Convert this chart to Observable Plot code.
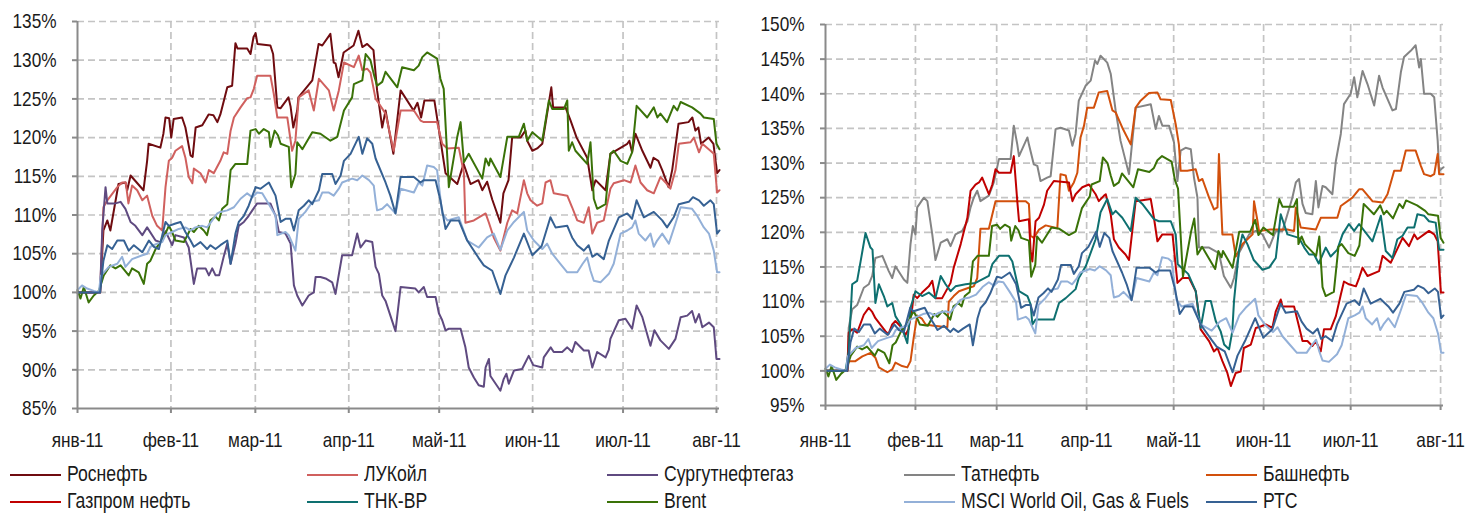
<!DOCTYPE html>
<html><head><meta charset="utf-8">
<script src="https://cdn.jsdelivr.net/npm/d3@7"></script>
<script src="https://cdn.jsdelivr.net/npm/@observablehq/plot@0.6"></script>
<style>
body{margin:0;background:#fff;font-family:"Liberation Sans",Arial,sans-serif;}
#wrap{position:relative;width:1465px;height:513px;overflow:hidden}
#left{position:absolute;left:0;top:0}
#right{position:absolute;left:735px;top:0}
#wrap svg{overflow:visible}
#legend{position:absolute;left:0;top:461px;width:1465px;height:52px}
.item{position:absolute;display:flex;align-items:center;font-size:21.5px;line-height:1;color:#1a1a1a;white-space:nowrap;height:26px}
.swatch{width:51px;height:2px;margin-right:6px;flex:none}
.txt{display:inline-block;line-height:1;transform:scaleX(0.82);transform-origin:left center}
</style></head><body>
<div id="wrap"><div id="left"></div><div id="right"></div><div id="legend"></div></div>
<script>
// ---- data: [day since 1 Jan 2011, % of start] ----
const rosneft = [[0,100],[7.5,100],[8.6,108],[9.9,109.3],[10.9,108],[13.6,114],[15.9,114.2],[16.5,113.2],[17.6,115.1],[21.9,113.2],[23.1,117],[23.6,119.2],[27.5,118.7],[28.5,120.5],[29.2,122.6],[30.4,122.5],[31.1,120],[31.9,122.4],[34.7,122.6],[35.8,121.3],[37.5,117.7],[38.2,117.5],[39.2,121.3],[41.4,121.6],[43.5,123],[45.1,122.9],[46.4,122],[47.4,123],[49.7,126.5],[51.3,126.7],[52.4,132.2],[53.1,131.5],[56.3,131.5],[57.4,130.8],[58.4,133],[59.1,133.5],[59.7,132.1],[64,131.9],[64.9,130.8],[66.3,123.9],[67.4,123.8],[70,125.2],[70.7,124],[71.6,121.3],[72.9,123.5],[73.3,125.2],[77.9,127.4],[80,132.1],[81.2,131.9],[83.9,133.4],[85,129.7],[85.6,129.6],[86.6,127.8],[88.3,131],[91.6,131.9],[93.2,133.8],[94.5,131.7],[96.1,132.1],[98.2,131.3],[99.4,126.1],[101.1,121.3],[102.2,123.5],[104.8,117.9],[107.2,126.1],[111.5,123.5],[112.8,124.5],[114,122.6],[115.1,124.8],[118.4,124.8],[119.8,121.3],[122.1,115.4],[126,114],[128.1,116.6],[130.4,114],[133,114.5],[134.3,113.2],[135.9,114.3],[137.6,112],[140.3,109],[141.3,112.8],[143,114.5],[144.2,120],[147,120],[148.6,120.9],[149.2,119.6],[150.9,118.3],[152.5,118.6],[154.2,119.2],[155.6,122.6],[157.2,126.5],[157.8,123.9],[161.9,123.9],[163.6,122.2],[165.6,120],[169.1,117.4],[170.8,113.2],[171.9,114.5],[175.2,113.2],[176.8,117.9],[182.4,119.2],[183.1,119.6],[184,118.1],[185.1,120.5],[187.4,118.3],[190.1,116.1],[191.1,117.4],[192.7,117],[194,115.8],[196.1,113.6],[197.3,115.8],[199.4,121.8],[202.7,122],[204,122.6],[205,120.9],[206,121.3],[206.9,119.2],[209.4,120],[211,119.2],[212.2,115.4],[213,115.8]];
const lukoil = [[0,100],[7.5,100],[8.6,111],[9.9,111.9],[13.2,113.6],[14.8,114.2],[16,114.2],[16.9,111.5],[18.1,113.8],[19.8,113.2],[21.5,111.9],[23.1,112.5],[24.8,109.9],[26.4,108.6],[28.1,108],[29.2,113.6],[30.3,117],[31.4,117.4],[32.5,118.3],[34.7,118.9],[35.8,117.4],[36.9,114.9],[38.1,114.1],[38.6,116],[40.8,115.4],[42.5,114.2],[43.6,115.8],[45.2,115.4],[47.4,117],[48.5,118.1],[49.7,117.9],[50.8,120.9],[51.9,122.6],[54.1,123.9],[56.3,125.1],[57.4,125.2],[58.5,126.3],[59.6,128],[64,128],[65.1,125.7],[66.3,122.6],[69.6,122.6],[71.2,118.3],[72.3,119.6],[73.4,125.2],[76.7,126.1],[78.4,123.5],[80.1,127.6],[83.4,126.1],[85,123.5],[86.7,126.1],[88.4,129.7],[91.7,129.1],[93.3,130.6],[94.5,128.7],[96.1,128.9],[97.2,128.4],[98.9,125],[100,124.4],[102.2,123.1],[104.9,118.3],[107.2,123.5],[111.6,123.5],[113.8,122.2],[114.9,122],[119.3,122],[121,119.2],[122.7,118.6],[126.5,118.7],[128.2,115.4],[128.7,109],[131.5,109.3],[135.4,110.2],[136.5,109],[138.1,107.1],[140.3,105.4],[142.6,109],[144.2,110.6],[145.9,110.2],[148.1,114.5],[149.2,112.8],[150.3,111.9],[152.5,111.2],[154.2,111.5],[155.3,114.2],[156.9,114.5],[158,112.8],[162.5,112.5],[164.1,111],[165.8,109.3],[168,109],[169.6,111],[170.8,107.6],[172.4,109],[174.6,109.3],[176.8,113.4],[177.9,114.1],[181.3,114.5],[183.5,114.2],[185.1,116.4],[186.8,114.2],[189,113.2],[191.2,112.8],[193.4,114.9],[195.1,114.2],[196.7,113.4],[198.4,115.8],[199.5,119.2],[203.4,119.4],[204.5,120],[206.2,118.1],[207.3,119.2],[210,118.3],[211.1,117.9],[212.2,112.9],[213,113.2]];
const surgut = [[0,100],[7.5,100],[8.2,108],[9.3,113.6],[9.9,111.5],[12.6,111.5],[14.3,111.7],[15.9,110.8],[17.6,109.1],[19.2,108.6],[21.5,107.4],[23.1,108.4],[25.9,106.7],[27.5,106.5],[29.2,107.9],[31.4,106.1],[32.5,107.4],[35.3,107.1],[36.9,105.8],[38.6,101.1],[39.7,103.1],[42.5,103.1],[43.6,102.2],[44.7,103.1],[45.8,102.2],[47,102.2],[48.5,104.6],[49.7,106.3],[50.8,103.7],[52.4,106.3],[53.5,108.6],[55.2,109.1],[56.8,109.9],[58,110.6],[59.6,111.5],[64,111.5],[65.7,109.9],[66.8,107.8],[69,107.6],[70.7,106.3],[71.8,100.9],[72.9,99.6],[74.6,98.3],[76.7,99.6],[78.4,100],[79,102],[80.6,102],[82.3,101.8],[84.5,101.3],[85.6,99.8],[87.8,104.8],[91.1,104.8],[92.8,107.6],[93.9,105.8],[95.6,106.7],[97.8,106.5],[98.9,103.3],[100,102.4],[101.1,99.6],[102.2,98.9],[105.5,95],[107.2,100.7],[112.1,100.5],[113.2,100],[114.9,100.7],[116,99.4],[118.8,99.4],[119.9,97.3],[121,96.4],[122.1,95.1],[123.2,95.3],[127.1,95.3],[128.7,92.9],[129.8,90.3],[131.5,89],[133.1,88],[134.8,87.8],[135.4,90.3],[136.5,91.4],[137,89.2],[140.3,87.3],[141.4,88.8],[142.3,89.5],[143.1,88.2],[144.8,89.9],[147.5,90.1],[149.7,91.8],[151.2,90.6],[154.2,90.3],[154.7,91.6],[157,92.9],[158,92.3],[160.8,92.3],[162.5,92.9],[164.1,92.3],[165.2,93.6],[168,92.5],[169.6,92.5],[170.8,90.3],[172.4,92.3],[175.2,91.6],[176.3,92.6],[176.8,94],[179.6,96.4],[181.8,96.6],[184,95.3],[185.5,98.3],[187.4,96.8],[190.1,93.1],[191.4,95.1],[193.4,93.8],[196.2,92.7],[198.4,94],[200.1,96.8],[202.3,97],[203.9,97.6],[205,96.1],[206.2,97.2],[207.3,95.5],[209.5,96.1],[211.1,95.5],[212,91.4],[213,91.4]];
const tatneft = [[0,100],[7.6,100],[8,106.2],[9.2,108.9],[10.9,109.5],[13.2,112],[14.9,112.5],[16.1,113.7],[17.2,116.3],[19.6,116.6],[21.8,114.4],[23,113.4],[24.1,115.1],[27,113.2],[28.2,112.7],[29.3,118.3],[30.1,120.9],[31,119.7],[31.6,123.6],[33.9,125],[35.1,124.5],[36.8,119.7],[37.9,116],[39.7,118.5],[42,119],[43.1,118],[44.8,119.7],[47.1,120.2],[48.9,121.6],[50,123.6],[51.1,125],[52.3,126],[53.4,124.5],[56.3,125.3],[58,127.2],[59.8,130.6],[63.8,130.6],[64.9,135.4],[66.1,132.7],[66.7,131],[69.6,133.7],[70.1,132.7],[71.8,129.8],[73,129.6],[74.1,127.4],[76.4,127.9],[77.6,128.1],[79.3,134.9],[81,135.1],[83.9,134.7],[85.1,132.5],[86.2,134.2],[87.3,139],[89.7,141.2],[91.4,141.9],[92.9,144.8],[93.7,144.3],[94.8,145.5],[97.1,144.5],[98.3,142.9],[100,137.6],[101.7,133.2],[104.6,128.4],[106.9,138],[112.1,138.5],[113.8,134.9],[114.9,136.8],[116.1,135.4],[118.4,135.4],[120.1,133],[121.3,127.4],[122.4,131.8],[124.1,132.2],[125.9,132],[127,127.9],[128.2,125],[128.7,117.8],[132.2,117.8],[135.6,117],[137.3,113.7],[139.7,112],[140.8,113.4],[142.5,117],[146,119.7],[148.3,120.2],[150.6,119.7],[152.9,117.8],[155.2,120.2],[157.5,120.2],[160.9,125],[162.1,127.2],[163.2,127.7],[164.4,124.1],[165.5,122.8],[167.8,122.6],[169,127.4],[169.9,123.6],[171.3,126.7],[172.4,126.5],[174.7,125.5],[175.9,130.3],[177.6,134.2],[178.7,138.5],[181,140],[182.2,142.4],[183.3,139.5],[185.1,143.3],[186.8,141.4],[189.1,138.3],[190.8,142.6],[192,140.9],[195.4,137.6],[196.6,137.8],[198.3,143.1],[199.4,145.3],[201.7,146.2],[203.4,147],[204.6,143.8],[205.2,145],[206.3,140],[208.6,140],[209.8,139.5],[211,133.2],[211.5,128.9],[213,129.4]];
const bashneft = [[0,100],[7.5,100],[8,101.4],[10.3,101.4],[12.7,102.1],[15.5,102.6],[17.2,101.9],[18.4,100.5],[21.3,99.8],[23,100.2],[24.1,101.2],[26.4,100.7],[28.2,100.5],[29.3,101.4],[30.4,104.8],[31.6,108],[33.3,107.5],[34.5,106.7],[37.3,106.5],[42,106.3],[42.5,110],[44.2,110.8],[46,111.5],[49.4,112],[51.1,112.2],[52.3,113.4],[53.4,120.5],[56.3,120.5],[58.6,124.5],[69,124.5],[70.1,124.1],[70.7,119.5],[71.8,119.2],[73.6,120.4],[75.9,121],[79.9,120.6],[81,128.4],[82.8,128.2],[83.9,126],[85.6,127.2],[86.8,128.6],[87.9,133.7],[89.1,135.4],[90.2,138],[92.5,138],[94.2,140.2],[97.1,140.4],[98.9,137.6],[100,137.3],[102.3,135.1],[105.2,132.7],[106.9,138],[108.6,139],[111.5,140.1],[114.4,140.2],[115.5,139.2],[119,139.1],[120.7,135.6],[121.8,132.7],[122.4,128.9],[124.7,128.9],[127.6,129.1],[128.7,127.4],[129.9,127.7],[132.2,125],[133.9,123.3],[135.1,123.6],[135.6,131.3],[136.8,119.7],[140.2,119.7],[141.4,116.5],[143.7,118.3],[147.2,119.7],[147.7,124.5],[148.9,121.6],[149.4,120.2],[153.4,120.4],[159.2,120.4],[161.5,120.2],[162.1,123.6],[163.8,120.7],[169,120.4],[170.7,122.1],[176.4,122.1],[177.6,123.8],[181.6,125],[183.9,126.2],[185.1,126.2],[188.5,124.5],[192,124.3],[193.7,125.5],[196,128.9],[198.3,128.9],[200,131.8],[203.4,131.8],[205.2,129.6],[206.3,128.4],[208.6,128.1],[209.8,128.4],[211,131.3],[211.5,128.4],[213,128.4]];
const gazpromneft = [[0,100],[7.5,100],[8,105.5],[9.2,106],[10.9,105.5],[13.2,108.1],[14.9,109.1],[16.1,108.5],[17.2,107.6],[20.7,105.7],[21.7,105.3],[23,106.7],[24.1,107.2],[25.9,106.4],[27.6,105.2],[28.6,106],[29.9,109.1],[30.4,111],[31.6,110.5],[33.3,111.3],[35.6,112.2],[36.8,113],[37.9,110.5],[40.2,110.5],[43.1,112.7],[44.2,114.9],[46.6,118.3],[48.9,122.1],[50,126],[51.7,126.9],[52.9,127.2],[54,127.9],[56.3,125.5],[57.5,126.9],[58.6,129.1],[59.8,128.6],[63.8,128.6],[64.9,131],[66.1,124.5],[66.7,121.6],[70.1,121.9],[70.7,117.3],[71.3,115.8],[72.4,121.6],[73.6,122.1],[75.3,124],[76.4,126],[78.7,127.4],[83.9,127.2],[85.1,124.5],[86.2,125.5],[88.5,126.5],[90.8,126.9],[93.1,125.5],[94.2,124.5],[96,125.3],[96.6,125.5],[98.3,122.6],[99.4,119],[101.1,117.8],[103.4,116.8],[104.6,116],[106.9,124.5],[112.1,124.8],[113.2,122.1],[114.4,118.7],[116.1,119.7],[119.6,119.7],[121.3,112.7],[123,113.4],[125.3,113.4],[127.6,111.5],[129.3,106],[132.2,104.3],[133.9,102.8],[135.1,103.3],[136.8,101.4],[138.5,99.7],[139.7,97.8],[141.4,99.7],[143.1,99.9],[144.2,103.3],[146.6,103.8],[148.3,106.2],[150,106.4],[151.7,106.7],[154,106.2],[155.2,108.6],[156.9,110.3],[157.5,109.3],[161.5,109.3],[163.2,106.4],[164.4,104.3],[166.1,104.3],[167.8,103.6],[169,104.3],[170.7,102.8],[171.8,106],[174.1,106],[175.9,107.9],[177.6,111],[178.7,112.9],[180.4,112.5],[182.8,112.2],[183.9,113.4],[185.1,114.9],[186.8,113.7],[190.8,114.4],[192,116.6],[194.8,115.6],[198.9,119.2],[201.1,118],[202.9,119.7],[204,119],[206.3,119.7],[208,120.2],[209.8,119.7],[211,118.7],[212.1,111.3],[213,111.3]];
const tnkbp = [[0,100],[6.9,100],[8,102.8],[9.2,112.5],[10.9,113],[12.1,115.8],[13.8,119.9],[15.5,117.8],[16.2,117.5],[17.2,109.8],[18.4,112.5],[20.1,110.8],[21.3,109.3],[23,109.8],[24.1,107.9],[25.9,106.7],[28.2,104],[29.3,109.1],[31,111.5],[33.3,110.8],[35.6,111.3],[37.9,110.5],[39.7,113.7],[41.4,112.5],[43.1,111.5],[44.8,112.2],[48.3,112.5],[51.7,112.7],[56.3,113.7],[57.5,115.4],[59.8,116.6],[63.2,116.6],[64.4,115.8],[66.7,111.5],[69.6,110.8],[70.7,109.6],[71.3,106.7],[72.4,107.4],[78.7,107.4],[80.5,109.8],[82.8,110.5],[86.2,111.8],[87.3,113.4],[89.7,115.1],[93.1,119],[94.8,122.9],[97.1,124.8],[98.9,122.6],[100,123.1],[102.3,122.1],[105.2,120.2],[106.9,125],[109.2,124.1],[113.2,121.9],[114.9,121.6],[119,121.6],[120.7,119.7],[121.4,115.4],[125,114],[127.6,111.5],[129.3,106.2],[131,110.1],[132.8,110.1],[134.5,107.2],[136.2,105.7],[137.4,103.8],[139.1,103.1],[140.2,105.7],[140.8,110.1],[142.5,117.3],[143.7,119.7],[145.4,118.3],[147.6,116],[150.6,114.6],[152.9,114.9],[155.2,116.3],[156.9,122.6],[159.2,119.7],[163.2,119.2],[165,117.8],[166.7,116.8],[168.4,116.8],[170,115.5],[172.4,117.8],[174.1,116.5],[176.4,117.5],[178.2,119.7],[180.4,121.2],[182.2,120.2],[183.9,121.2],[188.5,118.7],[191.4,122.4],[193.1,117.3],[195.4,116.3],[197.1,119],[198.9,119.5],[200.6,120.7],[202.9,120.7],[204,122.6],[206.3,122.4],[208,121.6],[210.3,121.4],[211.5,117.5],[213,117.5]];
const brent = [[0,100.3],[1,99.2],[2.1,100.7],[3.7,98.7],[5.4,99.6],[7.1,100.2],[8.7,102.2],[10.9,103.5],[12.6,103.1],[14.3,103.5],[17,102.2],[18.1,103.1],[20.3,102.6],[22,101.1],[23.1,103.7],[24.2,104.1],[25.9,105.6],[27.5,106.5],[28.6,107.1],[30.3,108.6],[31.4,107.8],[32.5,106.7],[35.3,106.5],[37.5,108.2],[38.6,107.8],[40.2,108.6],[41.9,108],[43,107.4],[44.1,109.3],[45.8,109.8],[46.9,109.3],[48,110.8],[49.7,111.4],[50.8,115.8],[52.4,116.6],[56.3,116.6],[57.4,120.9],[59.1,121.1],[60.2,120.5],[61.8,121.1],[63.5,120.7],[64,118.8],[65.4,120.9],[66.5,120.3],[67.4,119.2],[70.1,118.8],[70.9,113.6],[72.3,115.3],[72.9,119.4],[74.6,118.5],[77.9,120.7],[80.6,120.5],[83.9,119.6],[86.2,120.1],[88.4,123.5],[91.1,125.2],[91.7,126.9],[94.5,127.4],[95.6,130.8],[97.2,130],[98.3,128.2],[99.4,126.7],[101.1,127.2],[102.2,128.5],[106.1,126.5],[107.7,129.1],[111.6,128.7],[113.2,129.3],[114.4,130.4],[116,131],[119.3,130.2],[120.4,127.6],[121.5,126.3],[123.2,113.6],[126,120.1],[127.1,122],[128.2,116.8],[129.8,117.9],[134.3,114.7],[135.4,117.3],[136.5,116.4],[137,117.3],[140.3,114.9],[142.6,120.1],[146.4,120.1],[148.1,121.8],[149.2,119.6],[150.9,120.7],[154.2,119.6],[156.4,124.8],[157.5,123.7],[161.4,123.7],[162.5,124.8],[163,118.3],[164.1,119.4],[165.2,118.3],[169.1,116.6],[170.2,119.4],[171.3,112.1],[172.4,110.8],[175.2,111.4],[176.8,117.9],[177.9,118.3],[180.2,117],[182.4,116.6],[184,118.1],[185.5,124.1],[189,122.6],[191.2,123.9],[192.4,122.6],[193.4,123.1],[195.6,122],[197.8,124.1],[199,123.5],[200.1,124.6],[203.9,123.9],[206.7,123.1],[207.8,122.6],[211.1,122.4],[212,119.2],[213,118.5]];
const msci = [[0,100.3],[1.5,100.9],[3.2,100.5],[5.4,100.2],[7.1,100],[7.7,102.1],[10.4,103.3],[13.2,103.7],[14.8,104.6],[15.9,103.3],[18.1,104.3],[21.5,104.8],[23.1,105],[24.2,105.9],[26.4,106.3],[28.1,106.5],[29.2,107.4],[31.4,107.8],[33.6,108.2],[35.8,108.4],[37.5,108],[39.1,108.4],[41.4,108.6],[43,108.4],[46.4,110.2],[47.4,110.4],[49.7,110.6],[51.9,111],[54.1,112.1],[56.3,112.8],[58,112.3],[59.6,112.9],[61.3,112.8],[63.5,111.4],[65.7,109.9],[66.3,107.4],[69,107.8],[70.1,107.4],[72.3,105.4],[73.4,109.5],[75.6,110.4],[77.9,111.7],[80.1,111.9],[81.2,112.9],[83.4,112.9],[85,112.5],[86.7,113.4],[87.8,114.2],[91.1,114.7],[92.8,114.5],[94.5,115.1],[96.7,114.5],[98.3,113.8],[98.9,111.9],[99.4,110.6],[101.1,110.8],[102.7,111.4],[105.5,110.2],[107.2,113.4],[111.6,112.9],[113.2,114.2],[114.4,113.8],[116,116.4],[118.2,116.2],[119.3,115.8],[121,110.2],[122.7,109.3],[126.5,109.7],[129.3,106.7],[133.1,105.8],[135.9,107.1],[138.1,107.6],[140.3,105.5],[142.6,108],[144.8,109.1],[148.1,110.4],[149.2,108],[151.4,106.7],[154.2,105.6],[155.8,106.3],[157.5,105],[160.2,103.7],[162.5,102.6],[165.8,102.6],[167.6,103.7],[169.1,104.5],[170.2,102.8],[171.3,101.5],[173.5,101.3],[176.3,102.4],[177.9,103.7],[180.2,107.6],[182.4,108],[184,108.4],[185.1,109.3],[186.2,107.6],[188.4,106.7],[190.1,107.6],[191.2,105.9],[192.3,106.7],[194,107.6],[196.2,106.3],[198.4,108.9],[200.1,111],[203.9,110.8],[205.6,109.9],[207.8,108.4],[209.5,107.6],[211.1,105.4],[212.2,102.6],[213,102.6]];
const rts = [[0,100],[7.5,100],[8.6,104.1],[9.9,106.1],[11.5,105.6],[13.2,106.7],[15.4,106.7],[17,105.4],[18.7,106.1],[21.5,105.2],[23.7,106.7],[25.3,105.9],[27,105.6],[29.2,109.1],[30.3,108.6],[32.5,108.9],[34.2,109.1],[35.8,107.8],[37.5,106.7],[38.6,105.9],[40.8,106.5],[43,105.6],[44.1,106.1],[45.8,105.6],[47.4,106.1],[49.7,106.7],[50.8,103.7],[52.4,107.6],[53.5,109.1],[55.2,109.9],[56.8,111.2],[59.1,113.6],[60.7,113.4],[63.5,114.2],[65.7,112.5],[67.4,109.1],[69,109.5],[70.7,109.5],[71.8,108],[73.4,110.6],[75.1,111.2],[76.7,111.9],[77.9,111.4],[80.1,113.2],[81.2,115.3],[84.5,115.3],[85.6,114],[87.3,115.1],[88.4,117],[90.6,117.9],[93.3,120.1],[94.5,117.9],[96.1,119.9],[97.8,119.2],[98.9,117.3],[102.2,114.2],[103.8,112.5],[105.5,110.2],[107.2,114.9],[111.6,114.9],[113.8,114.2],[114.9,114.5],[118.8,114.5],[120.4,111.9],[122.1,108.2],[123.8,109.3],[126.5,109.3],[129.3,106.7],[133,104.5],[134.8,103.5],[137.6,102.8],[140.3,99.8],[142,102.2],[144.8,104.5],[148.1,107.6],[150.9,104.8],[154,106],[156.9,109.7],[158.6,108.4],[162.5,108.6],[164.1,107.1],[165.8,106.1],[168,105.4],[169.6,106.1],[170.8,104.6],[172.4,105],[174.6,104.3],[176.3,106.7],[179.6,109.7],[182.4,110.2],[184,109.5],[185.5,111.9],[187.9,109.7],[191.2,110.4],[194,109.3],[195.6,108.4],[197.8,109.7],[199.5,111.4],[202.8,111.7],[204.2,112.3],[206.2,111.9],[207.8,111.2],[210,111.9],[211.1,111.4],[212.2,107.6],[213,108]];

const names = ["Роснефть","ЛУКойл","Сургутнефтегаз","Татнефть","Башнефть","Газпром нефть","ТНК-ВР","Brent","MSCI World Oil, Gas & Fuels","РТС"];
const colors = ["#6f0c10","#d0605e","#5f4a80","#848484","#d2500c","#c00000","#0e7070","#3a7208","#93b0d8","#366193"];
const seriesData = [rosneft,lukoil,surgut,tatneft,bashneft,gazpromneft,tnkbp,brent,msci,rts];
const leftSeries = ["Роснефть","ЛУКойл","Сургутнефтегаз","Brent","MSCI World Oil, Gas & Fuels","РТС"];
const rightSeries = ["Татнефть","Башнефть","Газпром нефть","ТНК-ВР","Brent","MSCI World Oil, Gas & Fuels","РТС"];
const monthLabels = ["янв-11","фев-11","мар-11","апр-11","май-11","июн-11","июл-11","авг-11"];
const leftTicks = [85,90,95,100,105,110,115,120,125,130,135];
const rightTicks = [95,100,105,110,115,120,125,130,135,140,145,150];
const endDay = 213;

// ---- build ----
const t0 = Date.UTC(2011,0,1);
const toDate = d => new Date(t0 + d*864e5);
const months = monthLabels.map((_,i) => new Date(Date.UTC(2011,i,1)));
const rows = [];
names.forEach((n,i) => seriesData[i].forEach(([d,v]) => rows.push({name:n, date:toDate(d), value:v})));
const FONT = '"Liberation Sans",Arial,sans-serif';
const GRID = {stroke:"#c4c4c4", strokeOpacity:1, strokeWidth:1.7, strokeDasharray:"7,4"};
const AXIS = "#8a8a8a";
const NARROW = 0.82;

// emulate a narrow face: squeeze each SVG text horizontally about its own anchor
function narrowText(svg){
  svg.querySelectorAll("text").forEach(t => {
    const x = parseFloat(t.getAttribute("x")) || 0;
    const old = t.getAttribute("transform") || "";
    t.setAttribute("transform", `${old} translate(${x},0) scale(${NARROW},1) translate(${-x},0)`);
  });
  return svg;
}

function panel(opts){
  const {width, marginLeft, marginRight, marginTop, marginBottom, ticks, series, xPad} = opts;
  const data = rows.filter(r => series.includes(r.name));
  data.sort((a,b)=> series.indexOf(a.name)-series.indexOf(b.name));
  return narrowText(Plot.plot({
    width, height:455, marginLeft, marginRight, marginTop, marginBottom,
    style:{fontFamily:FONT, fontSize:"21px", color:"#1a1a1a", background:"transparent", overflow:"visible"},
    x:{type:"utc", domain:[toDate(0), toDate(endDay)]},
    y:{domain:[ticks[0], ticks[ticks.length-1]]},
    color:{domain:names, range:colors},
    marks:[
      Plot.gridY(ticks.slice(1), GRID),
      Plot.gridX(months.slice(1), GRID),
      Plot.line(data, {x:"date", y:"value", z:"name", stroke:"name", strokeWidth:2, strokeLinejoin:"round", curve:"linear"}),
      Plot.ruleX([toDate(0)], {stroke:AXIS, strokeWidth:2}),
      Plot.ruleY([ticks[0]], {stroke:AXIS, strokeWidth:2}),
      Plot.axisY(ticks, {tickSize:5, tickPadding:16, stroke:AXIS, strokeWidth:2, fill:"#1a1a1a", tickFormat:d=>d+"%", label:null}),
      Plot.axisX(months, {tickSize:5, tickPadding:xPad, stroke:AXIS, strokeWidth:2, fill:"#1a1a1a", tickFormat:(d,i)=>monthLabels[i], label:null})
    ]
  }));
}

document.getElementById("left").append(panel({width:735, marginLeft:77, marginRight:16, marginTop:21, marginBottom:47, ticks:leftTicks, series:leftSeries, xPad:19}));
document.getElementById("right").append(panel({width:730, marginLeft:90, marginRight:22, marginTop:24, marginBottom:50, ticks:rightTicks, series:rightSeries, xPad:22}));

// legend (5 columns x 2 rows)
const legendOrder = ["Роснефть","ЛУКойл","Сургутнефтегаз","Татнефть","Башнефть","Газпром нефть","ТНК-ВР","Brent","MSCI World Oil, Gas & Fuels","РТС"];
const colX = [10,307,607,904,1206];
const leg = document.getElementById("legend");
legendOrder.forEach((n,i) => {
  const it = document.createElement("div");
  it.className = "item";
  it.style.left = colX[i%5] + "px";
  it.style.top = (1 + Math.floor(i/5)*27) + "px";
  const sw = document.createElement("span");
  sw.className = "swatch";
  sw.style.background = colors[names.indexOf(n)];
  const tx = document.createElement("span");
  tx.className = "txt";
  tx.textContent = n;
  it.append(sw, tx);
  leg.append(it);
});
</script>
</body></html>
